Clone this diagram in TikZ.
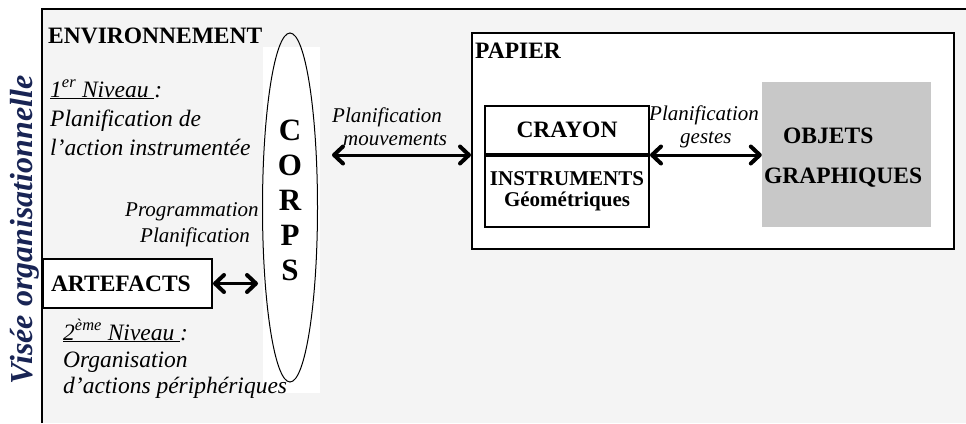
\documentclass[tikz,border=0pt]{standalone}
\usepackage{fontspec}
\setmainfont{Liberation Serif}
\usetikzlibrary{arrows.meta,shapes.geometric}
\definecolor{bgfill}{HTML}{F4F4F4}
\definecolor{objgray}{HTML}{C8C8C8}
\definecolor{viseecol}{RGB}{24,36,84}
\newcommand{\mainsz}{\fontsize{23.5}{28}\selectfont}
\newcommand{\lblsz}{\fontsize{21}{24}\selectfont}
\begin{document}
\begin{tikzpicture}[x=1pt,y=-1pt,
  txt/.style={inner sep=0pt, anchor=base west, font=\mainsz\itshape},
  lbl/.style={inner sep=0pt, anchor=base west, font=\lblsz\itshape},
  dbl/.style={line width=3pt, {Straight Barb[length=9pt,width=17pt,round,line width=4pt]}-{Straight Barb[length=9pt,width=17pt,round,line width=4pt]}},
  boxed/.style={draw, line width=2pt, inner sep=0pt}]
\useasboundingbox (0,0) rectangle (966,423);
\fill[bgfill] (42,9) rectangle (966,423);
\draw[line width=1.8pt] (42,423) -- (42,9) -- (966,9);

% corps (drawn first, texts lie over it)
\fill[white] (263,47) rectangle (320,393);
\node[draw, ellipse, line width=1pt, minimum width=55pt, minimum height=349pt, inner sep=0pt] (corps) at (290,207.5) {};
\node[anchor=north, inner sep=0pt, align=center, font=\fontsize{31}{35}\selectfont\bfseries] (corpst) at (290,120) {C\\O\\R\\P\\S};

% vertical title
\node[rotate=90, anchor=base, inner sep=0pt, text=viseecol,
      font=\fontsize{32}{36}\selectfont\bfseries\itshape] (visee) at (32,230) {Visée organisationnelle};

% environment
\node[txt, font=\mainsz\bfseries] (env) at (48,43) {ENVIRONNEMENT};
\node[txt] (niv1) at (50,97) {\underline{1\textsuperscript{er} Niveau\ }:};
\node[txt] (niv1b) at (50,126) {Planification de};
\node[txt] (niv1c) at (50,155) {l’action instrumentée};

\node[lbl] (prog) at (125,216) {Programmation};
\node[lbl] (plan) at (140,242) {Planification};

\node[txt] (niv2) at (63,340) {\underline{2\textsuperscript{ème} Niveau\ }:};
\node[txt] (niv2b) at (63,367) {Organisation};
\node[txt] (niv2c) at (63,393) {d’actions périphériques};

% artefacts
\node[boxed, fill=white, anchor=north west, text width=153pt, inner xsep=8pt, align=left,
      minimum height=49pt, font=\mainsz\bfseries] (artefacts) at (42,258) {ARTEFACTS};

% papier
\node[boxed, fill=white, minimum width=482pt, minimum height=216pt] (papier) at (713,141) {};
\node[txt, font=\mainsz\bfseries] (papiert) at (475,58) {PAPIER};

\node[boxed, fill=white, minimum width=164pt, minimum height=48pt, font=\mainsz\bfseries] (crayon) at (567,130) {\raisebox{-2pt}{CRAYON}};
\node[boxed, fill=white, anchor=north, minimum width=164pt, minimum height=71pt, align=center,
      font=\fontsize{21}{21}\selectfont\bfseries] (instr) at (crayon.south) {INSTRUMENTS\\Géométriques};

\node[fill=objgray, minimum width=169pt, minimum height=145pt, inner sep=0pt] (objets) at (846.5,154.5) {};
\node[inner sep=0pt, anchor=base west, font=\mainsz\bfseries] (objt1) at (783,143) {OBJETS};
\node[inner sep=0pt, anchor=base west, font=\mainsz\bfseries] (objt2) at (764,183) {GRAPHIQUES};

% labels
\node[lbl] (pm1) at (332,122) {Planification};
\node[lbl] (pm2) at (343,145) {mouvements};
\node[lbl] (pg1) at (649,120) {Planification};
\node[lbl] (pg2) at (680,143) {gestes};

% connectors
\draw[dbl, shorten >=4pt] (artefacts.east) -- (corps.west |- artefacts.east);
\draw[dbl, shorten <=14pt] (corps.east |- crayon.south) -- (papier.west |- crayon.south);
\draw[dbl] (crayon.south east) -- (objets.west |- crayon.south east);
\end{tikzpicture}
\end{document}
